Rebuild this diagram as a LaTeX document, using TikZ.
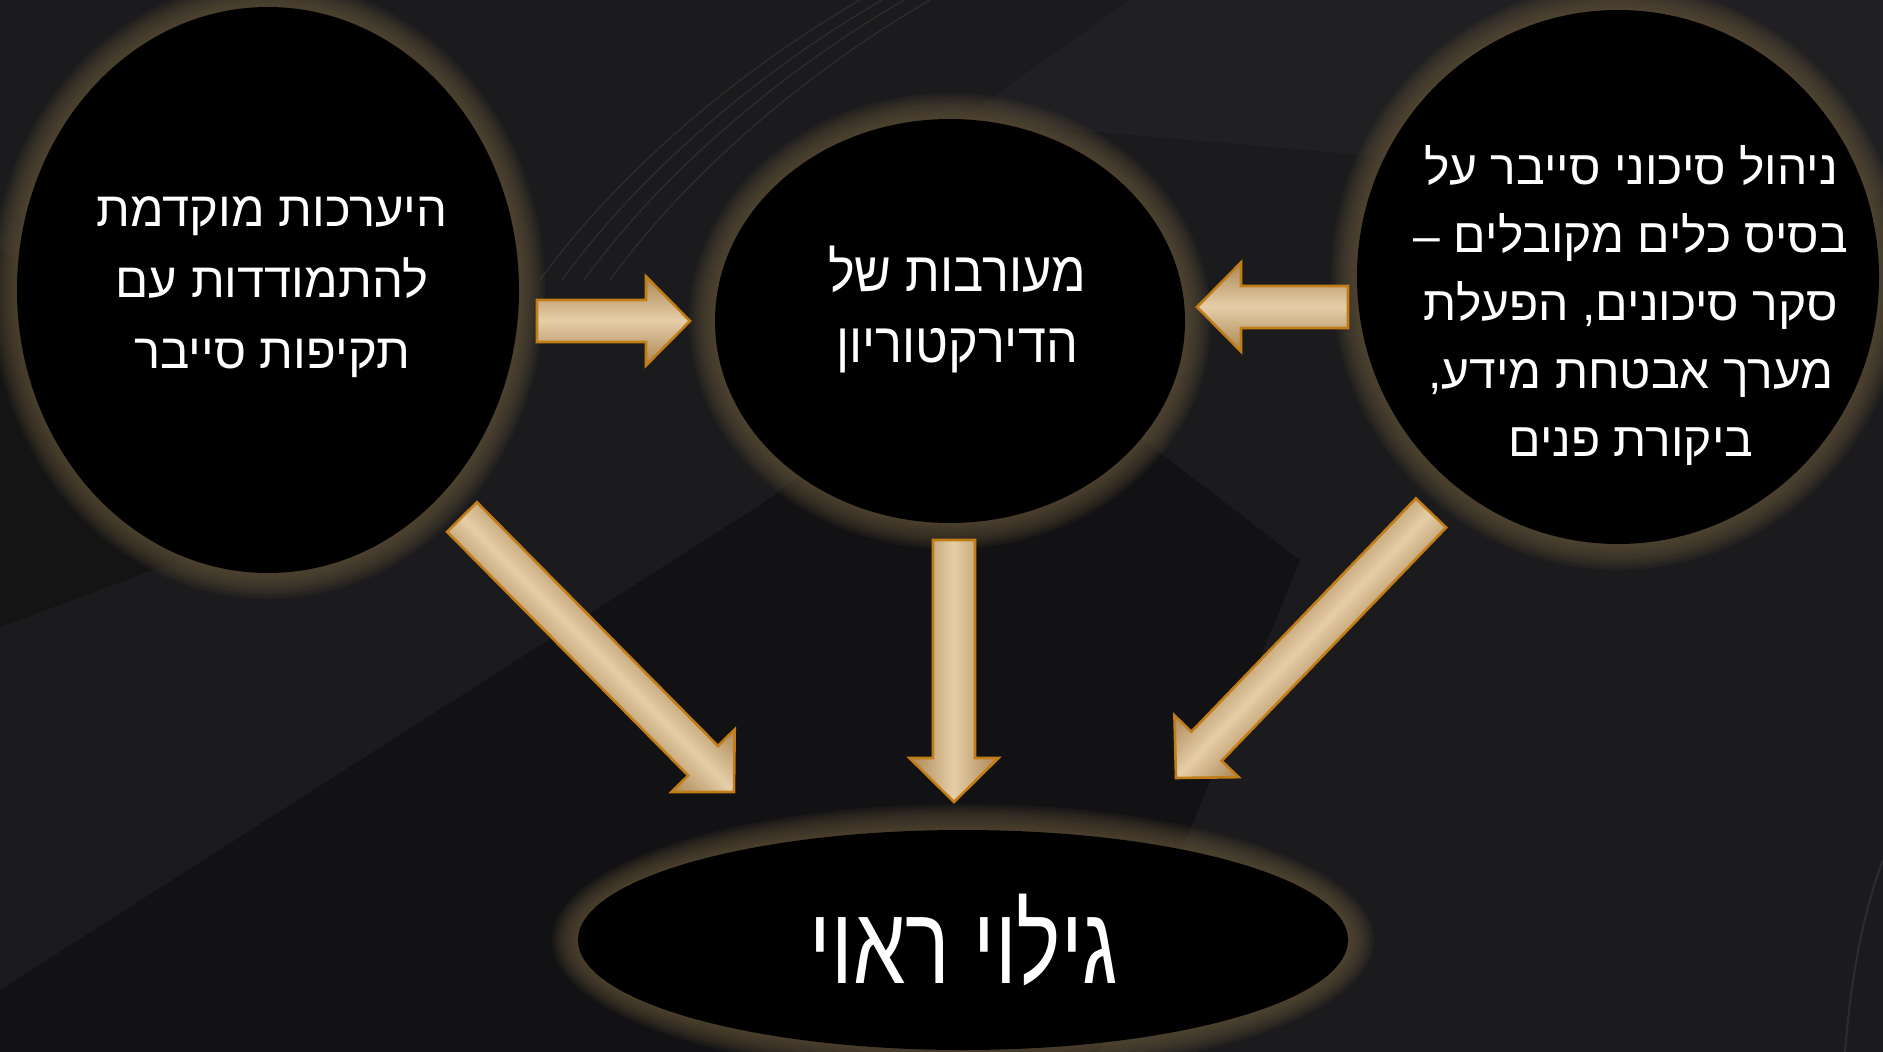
\documentclass[tikz,border=0pt]{standalone}
\usepackage{fontspec}
\newfontfamily\hebfont[Script=Hebrew]{Liberation Sans}
\TeXXeTstate=1
\usetikzlibrary{calc,shapes.geometric}
\definecolor{bg}{RGB}{27,27,29}
\definecolor{glowc}{RGB}{105,88,60}
\definecolor{arrA}{RGB}{172,136,86}
\definecolor{arrD}{RGB}{228,204,166}
\definecolor{arrline}{RGB}{193,125,23}
\newcommand\arrpoly[2]{($(#1)!21pt!90:(#2)$) -- ($(#2-m)!21pt!90:(#2)$) -- ($(#2-m)!44.5pt!90:(#2)$) -- (#2) -- ($(#2-m)!44.5pt!-90:(#2)$) -- ($(#2-m)!21pt!-90:(#2)$) -- ($(#1)!21pt!-90:(#2)$) -- cycle}
\newcommand\blockarrow[2]{%
  \coordinate (#2-m) at ($(#2)!44pt!(#1)$);
  \begin{scope}
    \clip \arrpoly{#1}{#2};
    \fill[arrA] \arrpoly{#1}{#2};
    \foreach \i in {0,...,21}{%
      \pgfmathsetmacro\w{88-4*\i}%
      \pgfmathsetmacro\p{100*\i/21}%
      \draw[arrD!\p!arrA, line width=\w pt] (#1) -- (#2);
    }
  \end{scope}
  \draw[arrline, line width=2.6pt, line join=miter] \arrpoly{#1}{#2};
}
\newcommand\glow[3]{% center, rx, ry
  \foreach \k in {1,...,10}{\fill[glowc, opacity=0.1] (#1) ellipse ({#2+2.6*\k} and {#3+2.6*\k});}
}
\begin{document}
\begin{tikzpicture}[x=1pt,y=-1pt,
  bubble/.style={ellipse, fill=black, inner sep=0pt, draw=none},
  lbl/.style={text=white, align=center, inner sep=0pt, font=\hebfont\fontsize{49}{71}\selectfont}]
\useasboundingbox (0,0) rectangle (1883,1052);
\fill[bg] (0,0) rectangle (1883,1052);
% background texture
\fill[black, opacity=0.3] (0,990) -- (760,505) -- (1000,330) -- (1300,560) -- (1100,1052) -- (0,1052) -- cycle;
\fill[black, opacity=0.25] (0,627) -- (180,560) -- (120,300) -- (0,250) -- cycle;
\fill[white, opacity=0.025] (1130,0) -- (1883,0) -- (1883,200) -- (960,120) -- cycle;
\foreach \d in {0,22,44,70}{
  \draw[white, opacity=0.07, line width=1.5pt] (860+\d,0) .. controls (740+\d,70) and (620+\d,170) .. (540+\d,280);
}
\draw[white, opacity=0.08, line width=2pt] (1883,860) .. controls (1860,920) and (1850,990) .. (1845,1052);
% glows
\glow{268,290}{251}{283}
\glow{950,321}{235}{202}
\glow{1618,277}{261}{267}
\glow{963,940}{385}{110}
% ellipses
\node[bubble, minimum width=502pt, minimum height=566pt] (prep) at (268,290) {};
\node[bubble, minimum width=470pt, minimum height=404pt] (board) at (950,321) {};
\node[bubble, minimum width=522pt, minimum height=534pt] (risk) at (1618,277) {};
\node[bubble, minimum width=770pt, minimum height=220pt] (disc) at (963,940) {};
% arrow end points
\coordinate (a1t) at (537,321);  \coordinate (a1h) at (690,321);
\coordinate (a2t) at (1348,307); \coordinate (a2h) at (1197,307);
\coordinate (a3t) at (954,540);  \coordinate (a3h) at (954,802);
\coordinate (a4t) at (462,517);  \coordinate (a4h) at (734,792);
\coordinate (a5t) at (1431,513); \coordinate (a5h) at (1176,778);
\blockarrow{a1t}{a1h}
\blockarrow{a2t}{a2h}
\blockarrow{a3t}{a3h}
\blockarrow{a4t}{a4h}
\blockarrow{a5t}{a5h}
% texts
\node[lbl] (tprep) at (272,287) {\beginR היערכות מוקדמת\endR\\\beginR להתמודדות עם\endR\\\beginR תקיפות סייבר\endR};
\node[lbl, font=\hebfont\fontsize{56}{71}\selectfont] (tboard) at (957,309) {\scalebox{0.9}[1]{\beginR מעורבות של\endR}\\\scalebox{0.9}[1]{\beginR הדירקטוריון\endR}};
\node[lbl, font=\hebfont\fontsize{48}{68}\selectfont] (trisk) at (1631,305) {\beginR ניהול סיכוני סייבר על\endR\\\beginR בסיס כלים מקובלים –\endR\\\beginR סקר סיכונים, הפעלת\endR\\\beginR מערך אבטחת מידע,\endR\\\beginR ביקורת פנים\endR};
\node[lbl, font=\hebfont\fontsize{110}{120}\selectfont] (tdisc) at (964,940) {\scalebox{0.76}[1]{\beginR גילוי ראוי\endR}};
\end{tikzpicture}
\end{document}
